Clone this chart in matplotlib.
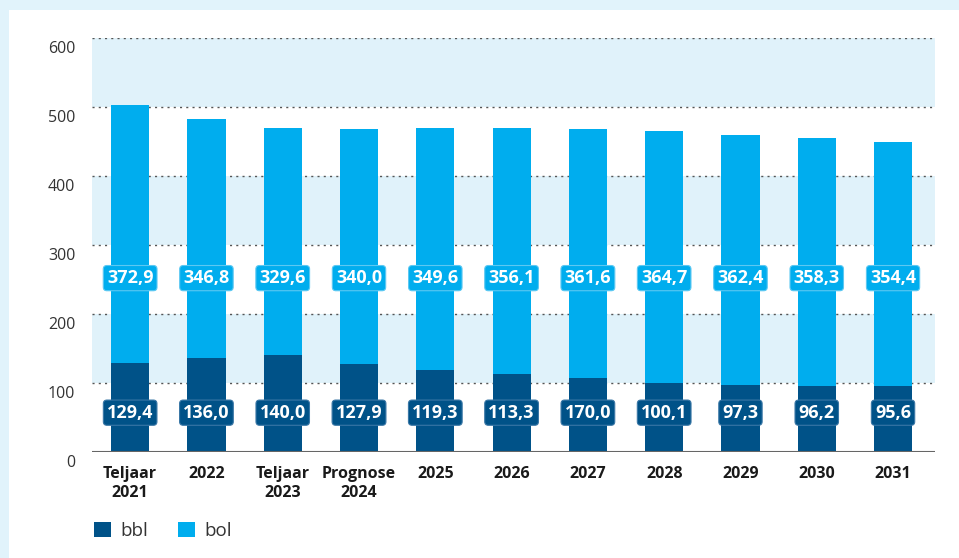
import numpy as np
import matplotlib.pyplot as plt
import matplotlib.transforms as mtransforms
from matplotlib.patches import Rectangle

plt.rcParams['font.family'] = ['Open Sans', 'DejaVu Sans']

# Data
jaren = ['Teljaar\n2021', '2022', 'Teljaar\n2023', 'Prognose\n2024', '2025', '2026',
         '2027', '2028', '2029', '2030', '2031']
bbl = [129.4, 136.0, 140.0, 127.9, 119.3, 113.3, 107.0, 100.1, 97.3, 96.2, 95.6]
bol = [372.9, 346.8, 329.6, 340.0, 349.6, 356.1, 361.6, 364.7, 362.4, 358.3, 354.4]
# label in de bron staat als 170,0 (vermoedelijk 107,0)
bbl_labels = ['129,4', '136,0', '140,0', '127,9', '119,3', '113,3', '170,0', '100,1', '97,3', '96,2', '95,6']
bol_labels = ['372,9', '346,8', '329,6', '340,0', '349,6', '356,1', '361,6', '364,7', '362,4', '358,3', '354,4']
yticks = [0, 100, 200, 300, 400, 500, 600]

c_bbl = '#005288'
c_bol = '#00adee'
c_band = '#e0f2fa'
c_frame = '#e1f3fb'

fig = plt.figure(figsize=(9.59, 5.58), dpi=100)
fig.patch.set_facecolor(c_frame)
# witte binnenvlak
fig.patches.append(Rectangle((9/959, 0), 1, (558-10)/558, transform=fig.transFigure,
                             facecolor='white', edgecolor='none', zorder=-5))

ax = fig.add_axes([92/959, 1-452/558, (935-92)/959, (452-38)/558])
ax.set_facecolor('none')

x = np.arange(len(jaren))

# banden
for y0 in [100, 300, 500]:
    ax.axhspan(y0, y0+100, color=c_band, zorder=0, lw=0)
for y in yticks[1:]:
    ax.axhline(y, color='#555555', lw=1, ls=(0, (1.5, 3)), zorder=1)

ax.bar(x, bbl, width=0.5, color=c_bbl, zorder=2, label='bbl')
ax.bar(x, bol, width=0.5, bottom=bbl, color=c_bol, zorder=2, label='bol')

for i in range(len(x)):
    ax.text(x[i], 57, bbl_labels[i], ha='center', va='center', color='white',
            fontsize=13, fontweight='bold', zorder=4,
            bbox=dict(boxstyle='round,pad=0.2,rounding_size=0.2', fc=c_bbl, ec='#3a77a6', lw=0.8))
    ax.text(x[i], 252, bol_labels[i], ha='center', va='center', color='white',
            fontsize=13, fontweight='bold', zorder=4,
            bbox=dict(boxstyle='round,pad=0.2,rounding_size=0.2', fc=c_bol, ec='#5cc8f2', lw=0.8))

ax.axhline(0, color='#666666', lw=1.5, zorder=3)

ax.set_xlim(-0.5, 10.55)
ax.set_ylim(0, 600)
ax.set_xticks(x)
ax.set_xticklabels(jaren, fontsize=11.5, fontweight='bold', color='#1a1a1a', linespacing=1.25)
ax.set_yticks(yticks)
ax.set_yticklabels([str(v) for v in yticks], fontsize=11.5, color='#333333')
ax.tick_params(axis='both', length=0)
ax.tick_params(axis='x', pad=10)
ax.tick_params(axis='y', pad=12)
offset = mtransforms.ScaledTranslation(0, -9/100, fig.dpi_scale_trans)
for lab in ax.get_yticklabels():
    lab.set_transform(lab.get_transform() + offset)
for s in ax.spines.values():
    s.set_visible(False)

leg = fig.legend(loc='lower left', bbox_to_anchor=(77/959, 1-557/558), ncol=2, frameon=False,
                 fontsize=13.5, handlelength=0.9, handleheight=0.9, columnspacing=1.6,
                 handletextpad=0.5)
for t in leg.get_texts():
    t.set_color('#333333')

fig.savefig('out.png', dpi=100, facecolor=fig.get_facecolor())
